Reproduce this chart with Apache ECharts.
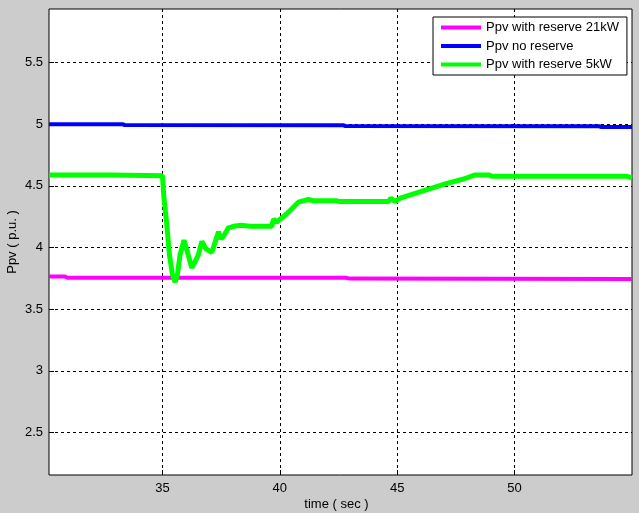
<!DOCTYPE html>
<html>
<head>
<meta charset="utf-8">
<script src="https://cdn.jsdelivr.net/npm/echarts@6/dist/echarts.min.js"></script>
<style>
html,body{margin:0;padding:0;background:#cccccc;}
#chart{width:639px;height:513px;}
</style>
</head>
<body>
<div id="chart"></div>
<script>
var seriesNames = ['Ppv with reserve 21kW', 'Ppv no reserve', 'Ppv with reserve 5kW'];

var magentaT = [30.17, 30.85, 30.95, 42.8, 43.0, 55.0];
var magentaP = [3.765, 3.765, 3.755, 3.755, 3.748, 3.745];

var blueT = [30.17, 33.3, 33.4, 42.7, 42.8, 53.6, 53.7, 55.0];
var blueP = [5.0, 5.0, 4.994, 4.992, 4.986, 4.984, 4.978, 4.978];

var greenT = [30.17, 32.75, 32.8, 35.0, 35.07, 35.19, 35.3, 35.43, 35.54, 35.64, 35.75, 35.92, 36.1, 36.25, 36.39, 36.53, 36.68, 36.85, 37.1, 37.25, 37.39, 37.5, 37.63, 37.81, 38.1, 38.31, 38.74, 39.66, 39.73, 39.87, 40.3, 40.79, 41.22, 41.43, 42.43, 42.57, 44.63, 44.73, 44.91, 45.13, 46.27, 47.12, 47.83, 48.32, 48.89, 49.03, 54.79, 55.0];
var greenP = [4.589, 4.589, 4.583, 4.583, 4.395, 4.18, 3.94, 3.777, 3.72, 3.777, 3.94, 4.06, 3.94, 3.836, 3.885, 3.94, 4.05, 3.99, 3.96, 4.046, 4.127, 4.07, 4.10, 4.16, 4.175, 4.18, 4.172, 4.172, 4.23, 4.207, 4.274, 4.368, 4.39, 4.38, 4.379, 4.373, 4.373, 4.40, 4.373, 4.40, 4.47, 4.52, 4.556, 4.589, 4.589, 4.578, 4.578, 4.565];

var xMin = 30.17, xMax = 55.0;
var yMin = 2.155, yMax = 5.935;
var xTicks = [35, 40, 45, 50];
var yTicks = [2.5, 3, 3.5, 4, 4.5, 5, 5.5];

function pairs(t, p) { return t.map(function (v, i) { return [v, p[i]]; }); }

var font = 'Arial, "Liberation Sans", Helvetica, sans-serif';
var chart = echarts.init(document.getElementById('chart'), null, {renderer: 'canvas'});

var gridLine = {show: true, lineStyle: {color: '#000', width: 1, type: [3, 3]}};

chart.setOption({
  backgroundColor: '#cccccc',
  animation: false,
  textStyle: {fontFamily: font},
  grid: {left: 49, top: 9, right: 7, bottom: 38, containLabel: false, outerBoundsMode: 'none', show: true, backgroundColor: '#ffffff', borderColor: '#000', borderWidth: 1},
  legend: {
    orient: 'vertical',
    left: 433, top: 17,
    padding: [4, 8, 4, 8],
    itemGap: 5.5,
    itemWidth: 40, itemHeight: 4,
    icon: 'rect',
    backgroundColor: '#ffffff',
    borderColor: '#000', borderWidth: 1,
    textStyle: {fontFamily: font, fontSize: 13, color: '#000'},
    data: seriesNames
  },
  xAxis: {
    type: 'value', min: xMin, max: xMax,
    name: 'time ( sec )', nameLocation: 'middle', nameGap: 23, nameMoveOverlap: false,
    nameTextStyle: {fontFamily: font, fontSize: 13, color: '#000', padding: [0, 8, 0, 0]},
    axisLine: {show: false},
    axisTick: {show: true, inside: true, length: 5, customValues: xTicks, lineStyle: {color: '#000'}},
    axisLabel: {customValues: xTicks, color: '#000', fontFamily: font, fontSize: 13, margin: 7},
    splitLine: gridLine
  },
  yAxis: {
    type: 'value', min: yMin, max: yMax,
    name: 'Ppv ( p.u. )', nameLocation: 'middle', nameGap: 30, nameMoveOverlap: false,
    nameTextStyle: {fontFamily: font, fontSize: 13, color: '#000'},
    axisLine: {show: false},
    axisTick: {show: true, inside: true, length: 5, customValues: yTicks, lineStyle: {color: '#000'}},
    axisLabel: {customValues: yTicks, color: '#000', fontFamily: font, fontSize: 13, margin: 6},
    splitLine: gridLine
  },
  series: [
    {name: seriesNames[0], type: 'line', showSymbol: false, color: '#ff00ff', lineStyle: {width: 4, color: '#ff00ff'}, data: pairs(magentaT, magentaP)},
    {name: seriesNames[1], type: 'line', showSymbol: false, color: '#0000ff', lineStyle: {width: 4, color: '#0000ff'}, data: pairs(blueT, blueP)},
    {name: seriesNames[2], type: 'line', showSymbol: false, color: '#00ff00', lineStyle: {width: 5, color: '#00ff00'}, data: pairs(greenT, greenP)}
  ]
});
</script>
</body>
</html>
